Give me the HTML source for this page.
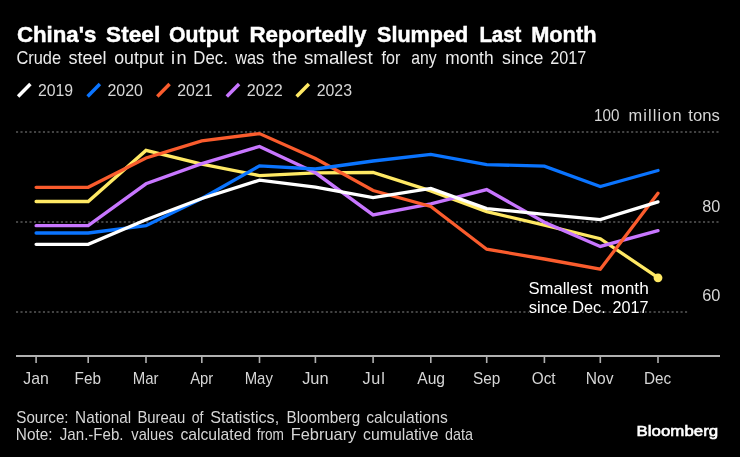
<!DOCTYPE html><html><head><meta charset="utf-8"><title>China's Steel Output Reportedly Slumped Last Month</title><style>
html,body{margin:0;padding:0;background:#000;}
body{width:740px;height:457px;overflow:hidden;}
svg{display:block;}
text{font-family:"Liberation Sans",sans-serif;}
</style></head><body>
<svg width="740" height="457" viewBox="0 0 740 457">
<rect width="740" height="457" fill="#000"/>
<line x1="18.1" y1="96.4" x2="30.4" y2="84.1" stroke="#ffffff" stroke-width="3.5"/>
<line x1="87.6" y1="96.4" x2="99.9" y2="84.1" stroke="#0a74ff" stroke-width="3.5"/>
<line x1="157.3" y1="96.4" x2="169.6" y2="84.1" stroke="#fa5c2d" stroke-width="3.5"/>
<line x1="226.8" y1="96.4" x2="239.1" y2="84.1" stroke="#c876ff" stroke-width="3.5"/>
<line x1="296.6" y1="96.4" x2="308.9" y2="84.1" stroke="#ffe964" stroke-width="3.5"/>
<g stroke="#5a5a5a" stroke-width="1.4" stroke-dasharray="2.1 2.39">
<line x1="16" y1="132" x2="720" y2="132"/>
<line x1="16" y1="222" x2="720" y2="222"/>
<line x1="16" y1="312" x2="688" y2="312"/>
</g>
<line x1="16" y1="356" x2="720" y2="356" stroke="#b0b0b0" stroke-width="1.8"/>
<line x1="36.1" y1="356" x2="36.1" y2="363" stroke="#b0b0b0" stroke-width="1.6"/>
<line x1="88.2" y1="356" x2="88.2" y2="363" stroke="#b0b0b0" stroke-width="1.6"/>
<line x1="146.0" y1="356" x2="146.0" y2="363" stroke="#b0b0b0" stroke-width="1.6"/>
<line x1="201.8" y1="356" x2="201.8" y2="363" stroke="#b0b0b0" stroke-width="1.6"/>
<line x1="259.5" y1="356" x2="259.5" y2="363" stroke="#b0b0b0" stroke-width="1.6"/>
<line x1="315.4" y1="356" x2="315.4" y2="363" stroke="#b0b0b0" stroke-width="1.6"/>
<line x1="373.1" y1="356" x2="373.1" y2="363" stroke="#b0b0b0" stroke-width="1.6"/>
<line x1="430.8" y1="356" x2="430.8" y2="363" stroke="#b0b0b0" stroke-width="1.6"/>
<line x1="486.7" y1="356" x2="486.7" y2="363" stroke="#b0b0b0" stroke-width="1.6"/>
<line x1="544.4" y1="356" x2="544.4" y2="363" stroke="#b0b0b0" stroke-width="1.6"/>
<line x1="600.3" y1="356" x2="600.3" y2="363" stroke="#b0b0b0" stroke-width="1.6"/>
<line x1="658.0" y1="356" x2="658.0" y2="363" stroke="#b0b0b0" stroke-width="1.6"/>
<polyline points="36.1,201.5 88.2,201.5 146.0,150.4 201.8,164.2 259.5,175.6 315.4,172.8 373.1,172.5 430.8,190.9 486.7,211.6 544.4,225.2 600.3,238.7 658.0,277.6" fill="none" stroke="#ffe964" stroke-width="3.3" stroke-linejoin="miter" stroke-linecap="round"/>
<polyline points="36.1,225.7 88.2,225.7 146.0,183.8 201.8,163.6 259.5,146.4 315.4,172.8 373.1,214.9 430.8,203.8 486.7,189.6 544.4,222.2 600.3,246.4 658.0,230.6" fill="none" stroke="#c876ff" stroke-width="3.3" stroke-linejoin="miter" stroke-linecap="round"/>
<polyline points="36.1,187.3 88.2,187.3 146.0,158.0 201.8,140.8 259.5,133.6 315.4,158.6 373.1,190.5 430.8,206.5 486.7,249.2 544.4,259.0 600.3,269.2 658.0,193.2" fill="none" stroke="#fa5c2d" stroke-width="3.3" stroke-linejoin="miter" stroke-linecap="round"/>
<polyline points="36.1,233.0 88.2,233.0 146.0,225.7 201.8,198.5 259.5,165.9 315.4,169.0 373.1,161.0 430.8,154.3 486.7,164.6 544.4,166.2 600.3,186.6 658.0,170.5" fill="none" stroke="#0a74ff" stroke-width="3.3" stroke-linejoin="miter" stroke-linecap="round"/>
<polyline points="36.1,244.3 88.2,244.3 146.0,219.7 201.8,198.5 259.5,180.2 315.4,187.2 373.1,197.6 430.8,188.4 486.7,208.6 544.4,214.3 600.3,219.7 658.0,201.9" fill="none" stroke="#ffffff" stroke-width="3.3" stroke-linejoin="miter" stroke-linecap="round"/>
<circle cx="658.0" cy="277.8" r="4.4" fill="#ffe964"/>
<g style="will-change:transform">
<text x="16.91" y="42.20" font-size="21.2" font-weight="bold" fill="#ffffff" textLength="79.48" lengthAdjust="spacingAndGlyphs" stroke="#fff" stroke-width="0.45">China's</text>
<text x="106.14" y="42.20" font-size="21.2" font-weight="bold" fill="#ffffff" textLength="54.08" lengthAdjust="spacingAndGlyphs" stroke="#fff" stroke-width="0.45">Steel</text>
<text x="169.12" y="42.20" font-size="21.2" font-weight="bold" fill="#ffffff" textLength="69.56" lengthAdjust="spacingAndGlyphs" stroke="#fff" stroke-width="0.45">Output</text>
<text x="249.45" y="42.20" font-size="21.2" font-weight="bold" fill="#ffffff" textLength="116.93" lengthAdjust="spacingAndGlyphs" stroke="#fff" stroke-width="0.45">Reportedly</text>
<text x="377.05" y="42.20" font-size="21.2" font-weight="bold" fill="#ffffff" textLength="91.02" lengthAdjust="spacingAndGlyphs" stroke="#fff" stroke-width="0.45">Slumped</text>
<text x="479.38" y="42.20" font-size="21.2" font-weight="bold" fill="#ffffff" textLength="42.07" lengthAdjust="spacingAndGlyphs" stroke="#fff" stroke-width="0.45">Last</text>
<text x="531.20" y="42.20" font-size="21.2" font-weight="bold" fill="#ffffff" textLength="65.27" lengthAdjust="spacingAndGlyphs" stroke="#fff" stroke-width="0.45">Month</text>
<text x="16.39" y="64.30" font-size="18.2" font-weight="normal" fill="#ececec" textLength="44.69" lengthAdjust="spacingAndGlyphs" >Crude</text>
<text x="68.42" y="64.30" font-size="18.2" font-weight="normal" fill="#ececec" textLength="38.19" lengthAdjust="spacingAndGlyphs" >steel</text>
<text x="114.22" y="64.30" font-size="18.2" font-weight="normal" fill="#ececec" textLength="49.42" lengthAdjust="spacingAndGlyphs" >output</text>
<text x="170.99" y="64.30" font-size="18.2" font-weight="normal" fill="#ececec" textLength="15.55" lengthAdjust="spacing" >in</text>
<text x="193.34" y="64.30" font-size="18.2" font-weight="normal" fill="#ececec" textLength="34.48" lengthAdjust="spacingAndGlyphs" >Dec.</text>
<text x="235.14" y="64.30" font-size="18.2" font-weight="normal" fill="#ececec" textLength="29.07" lengthAdjust="spacingAndGlyphs" >was</text>
<text x="272.34" y="64.30" font-size="18.2" font-weight="normal" fill="#ececec" textLength="24.94" lengthAdjust="spacingAndGlyphs" >the</text>
<text x="303.92" y="64.30" font-size="18.2" font-weight="normal" fill="#ececec" textLength="68.80" lengthAdjust="spacingAndGlyphs" >smallest</text>
<text x="381.62" y="64.30" font-size="18.2" font-weight="normal" fill="#ececec" textLength="18.81" lengthAdjust="spacingAndGlyphs" >for</text>
<text x="411.32" y="64.30" font-size="18.2" font-weight="normal" fill="#ececec" textLength="25.36" lengthAdjust="spacingAndGlyphs" >any</text>
<text x="445.30" y="64.30" font-size="18.2" font-weight="normal" fill="#ececec" textLength="48.25" lengthAdjust="spacingAndGlyphs" >month</text>
<text x="502.00" y="64.30" font-size="18.2" font-weight="normal" fill="#ececec" textLength="41.51" lengthAdjust="spacingAndGlyphs" >since</text>
<text x="550.23" y="64.30" font-size="18.2" font-weight="normal" fill="#ececec" textLength="35.96" lengthAdjust="spacingAndGlyphs" >2017</text>
<text x="37.96" y="95.70" font-size="16.4" font-weight="normal" fill="#d6d6d6" textLength="35.23" lengthAdjust="spacingAndGlyphs" >2019</text>
<text x="107.42" y="95.70" font-size="16.4" font-weight="normal" fill="#d6d6d6" textLength="35.62" lengthAdjust="spacingAndGlyphs" >2020</text>
<text x="177.26" y="95.70" font-size="16.4" font-weight="normal" fill="#d6d6d6" textLength="35.39" lengthAdjust="spacingAndGlyphs" >2021</text>
<text x="246.84" y="95.70" font-size="16.4" font-weight="normal" fill="#d6d6d6" textLength="35.98" lengthAdjust="spacingAndGlyphs" >2022</text>
<text x="316.65" y="95.70" font-size="16.4" font-weight="normal" fill="#d6d6d6" textLength="35.36" lengthAdjust="spacingAndGlyphs" >2023</text>
<text x="593.98" y="120.80" font-size="16.4" font-weight="normal" fill="#d6d6d6" textLength="25.41" lengthAdjust="spacingAndGlyphs" >100</text>
<text x="628.47" y="120.80" font-size="16.4" font-weight="normal" fill="#d6d6d6" textLength="53.26" lengthAdjust="spacing" >million</text>
<text x="688.38" y="120.80" font-size="16.4" font-weight="normal" fill="#d6d6d6" textLength="31.48" lengthAdjust="spacingAndGlyphs" >tons</text>
<text x="702.22" y="212.00" font-size="16.6" font-weight="normal" fill="#d6d6d6" textLength="18.06" lengthAdjust="spacingAndGlyphs" >80</text>
<text x="702.13" y="300.90" font-size="16.6" font-weight="normal" fill="#d6d6d6" textLength="18.21" lengthAdjust="spacingAndGlyphs" >60</text>
<text x="23.34" y="383.50" font-size="16.2" font-weight="normal" fill="#d6d6d6" textLength="25.49" lengthAdjust="spacingAndGlyphs" >Jan</text>
<text x="74.59" y="383.50" font-size="16.2" font-weight="normal" fill="#d6d6d6" textLength="26.41" lengthAdjust="spacingAndGlyphs" >Feb</text>
<text x="132.68" y="383.50" font-size="16.2" font-weight="normal" fill="#d6d6d6" textLength="25.79" lengthAdjust="spacingAndGlyphs" >Mar</text>
<text x="190.21" y="383.50" font-size="16.2" font-weight="normal" fill="#d6d6d6" textLength="23.10" lengthAdjust="spacingAndGlyphs" >Apr</text>
<text x="244.68" y="383.50" font-size="16.2" font-weight="normal" fill="#d6d6d6" textLength="28.20" lengthAdjust="spacingAndGlyphs" >May</text>
<text x="302.16" y="383.50" font-size="16.2" font-weight="normal" fill="#d6d6d6" textLength="26.44" lengthAdjust="spacingAndGlyphs" >Jun</text>
<text x="362.44" y="383.50" font-size="16.2" font-weight="normal" fill="#d6d6d6" textLength="22.32" lengthAdjust="spacing" >Jul</text>
<text x="417.21" y="383.50" font-size="16.2" font-weight="normal" fill="#d6d6d6" textLength="27.88" lengthAdjust="spacingAndGlyphs" >Aug</text>
<text x="472.93" y="383.50" font-size="16.2" font-weight="normal" fill="#d6d6d6" textLength="27.28" lengthAdjust="spacingAndGlyphs" >Sep</text>
<text x="531.72" y="383.50" font-size="16.2" font-weight="normal" fill="#d6d6d6" textLength="23.89" lengthAdjust="spacingAndGlyphs" >Oct</text>
<text x="585.79" y="383.50" font-size="16.2" font-weight="normal" fill="#d6d6d6" textLength="27.74" lengthAdjust="spacingAndGlyphs" >Nov</text>
<text x="643.95" y="383.50" font-size="16.2" font-weight="normal" fill="#d6d6d6" textLength="27.26" lengthAdjust="spacingAndGlyphs" >Dec</text>
<text x="528.40" y="293.90" font-size="16.4" font-weight="normal" fill="#ffffff" textLength="63.89" lengthAdjust="spacingAndGlyphs" stroke="#000" stroke-width="2" paint-order="stroke" stroke-linejoin="round">Smallest</text>
<text x="600.71" y="293.90" font-size="16.4" font-weight="normal" fill="#ffffff" textLength="48.11" lengthAdjust="spacingAndGlyphs" stroke="#000" stroke-width="2" paint-order="stroke" stroke-linejoin="round">month</text>
<text x="528.65" y="312.60" font-size="16.4" font-weight="normal" fill="#ffffff" textLength="38.89" lengthAdjust="spacingAndGlyphs" stroke="#000" stroke-width="2" paint-order="stroke" stroke-linejoin="round">since</text>
<text x="572.30" y="312.60" font-size="16.4" font-weight="normal" fill="#ffffff" textLength="33.47" lengthAdjust="spacingAndGlyphs" stroke="#000" stroke-width="2" paint-order="stroke" stroke-linejoin="round">Dec.</text>
<text x="612.45" y="312.60" font-size="16.4" font-weight="normal" fill="#ffffff" textLength="35.99" lengthAdjust="spacingAndGlyphs" stroke="#000" stroke-width="2" paint-order="stroke" stroke-linejoin="round">2017</text>
<text x="16.33" y="422.80" font-size="16.4" font-weight="normal" fill="#d6d6d6" textLength="52.23" lengthAdjust="spacingAndGlyphs" >Source:</text>
<text x="75.12" y="422.80" font-size="16.4" font-weight="normal" fill="#d6d6d6" textLength="56.11" lengthAdjust="spacingAndGlyphs" >National</text>
<text x="137.41" y="422.80" font-size="16.4" font-weight="normal" fill="#d6d6d6" textLength="47.95" lengthAdjust="spacingAndGlyphs" >Bureau</text>
<text x="191.67" y="422.80" font-size="16.4" font-weight="normal" fill="#d6d6d6" textLength="11.71" lengthAdjust="spacingAndGlyphs" >of</text>
<text x="210.23" y="422.80" font-size="16.4" font-weight="normal" fill="#d6d6d6" textLength="68.90" lengthAdjust="spacingAndGlyphs" >Statistics,</text>
<text x="286.50" y="422.80" font-size="16.4" font-weight="normal" fill="#d6d6d6" textLength="73.66" lengthAdjust="spacingAndGlyphs" >Bloomberg</text>
<text x="366.18" y="422.80" font-size="16.4" font-weight="normal" fill="#d6d6d6" textLength="81.55" lengthAdjust="spacingAndGlyphs" >calculations</text>
<text x="15.79" y="439.60" font-size="16.4" font-weight="normal" fill="#d6d6d6" textLength="36.74" lengthAdjust="spacingAndGlyphs" >Note:</text>
<text x="59.83" y="439.60" font-size="16.4" font-weight="normal" fill="#d6d6d6" textLength="63.74" lengthAdjust="spacingAndGlyphs" >Jan.-Feb.</text>
<text x="131.35" y="439.60" font-size="16.4" font-weight="normal" fill="#d6d6d6" textLength="42.31" lengthAdjust="spacingAndGlyphs" >values</text>
<text x="180.39" y="439.60" font-size="16.4" font-weight="normal" fill="#d6d6d6" textLength="70.84" lengthAdjust="spacingAndGlyphs" >calculated</text>
<text x="256.65" y="439.60" font-size="16.4" font-weight="normal" fill="#d6d6d6" textLength="27.28" lengthAdjust="spacingAndGlyphs" >from</text>
<text x="290.73" y="439.60" font-size="16.4" font-weight="normal" fill="#d6d6d6" textLength="65.61" lengthAdjust="spacingAndGlyphs" >February</text>
<text x="363.11" y="439.60" font-size="16.4" font-weight="normal" fill="#d6d6d6" textLength="75.34" lengthAdjust="spacingAndGlyphs" >cumulative</text>
<text x="445.02" y="439.60" font-size="16.4" font-weight="normal" fill="#d6d6d6" textLength="27.91" lengthAdjust="spacingAndGlyphs" >data</text>
<text x="636.60" y="435.80" font-size="15.3" font-weight="normal" fill="#ffffff" textLength="81.58" lengthAdjust="spacingAndGlyphs" stroke="#fff" stroke-width="0.6">Bloomberg</text>
</g>
</svg></body></html>
